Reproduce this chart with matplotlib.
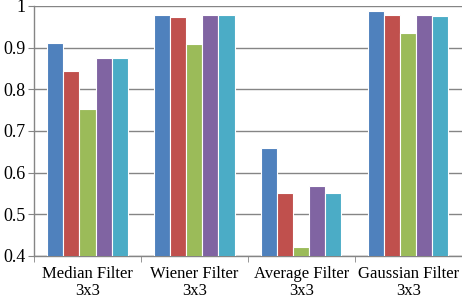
import numpy as np
import matplotlib
matplotlib.use("Agg")
import matplotlib.pyplot as plt

plt.rcParams['font.family'] = ['Liberation Serif', 'DejaVu Serif']

categories = ["Median Filter\n3x3", "Wiener Filter\n3x3", "Average Filter\n3x3", "Gaussian Filter\n3x3"]
s1 = [0.911, 0.978, 0.659, 0.987]
s2 = [0.845, 0.974, 0.552, 0.979]
s3 = [0.752, 0.908, 0.421, 0.935]
s4 = [0.875, 0.978, 0.568, 0.979]
s5 = [0.874, 0.978, 0.552, 0.976]
series = [s1, s2, s3, s4, s5]
colors = ["#4F81BD", "#C0504D", "#9BBB59", "#8064A2", "#4BACC6"]

fig = plt.figure(figsize=(4.62, 2.98), dpi=100)
ax = fig.add_axes([0.0736, 0.141, 0.926, 0.839])

x = np.arange(len(categories))
w = 0.15
for i, (vals, c) in enumerate(zip(series, colors)):
    ax.bar(x + (i - 2) * w, vals, w, color=c, edgecolor="white", linewidth=0.8, zorder=3)

ax.set_ylim(0.4, 1.0)
ax.set_xlim(-0.5, len(categories) - 0.5)
ax.set_yticks(np.arange(0.4, 1.01, 0.1))
ax.set_yticklabels(["0.4", "0.5", "0.6", "0.7", "0.8", "0.9", "1"])
ax.yaxis.grid(True, color="#858585", linewidth=1.0, zorder=0)

ax.set_xticks(x)
ax.set_xticklabels(categories, fontsize=12, linespacing=1.1)
ax.set_xticks(np.arange(-0.5, len(categories), 1.0), minor=True)
ax.tick_params(axis="x", which="major", length=0, pad=7)
ax.tick_params(axis="x", which="minor", length=4, color="#858585", direction="out")
ax.tick_params(axis="y", length=4, color="#858585", labelsize=13, pad=2)

for side in ["top", "right"]:
    ax.spines[side].set_visible(False)
for side in ["left", "bottom"]:
    ax.spines[side].set_color("#858585")
    ax.spines[side].set_linewidth(1.0)

fig.savefig("out.png", dpi=100)
